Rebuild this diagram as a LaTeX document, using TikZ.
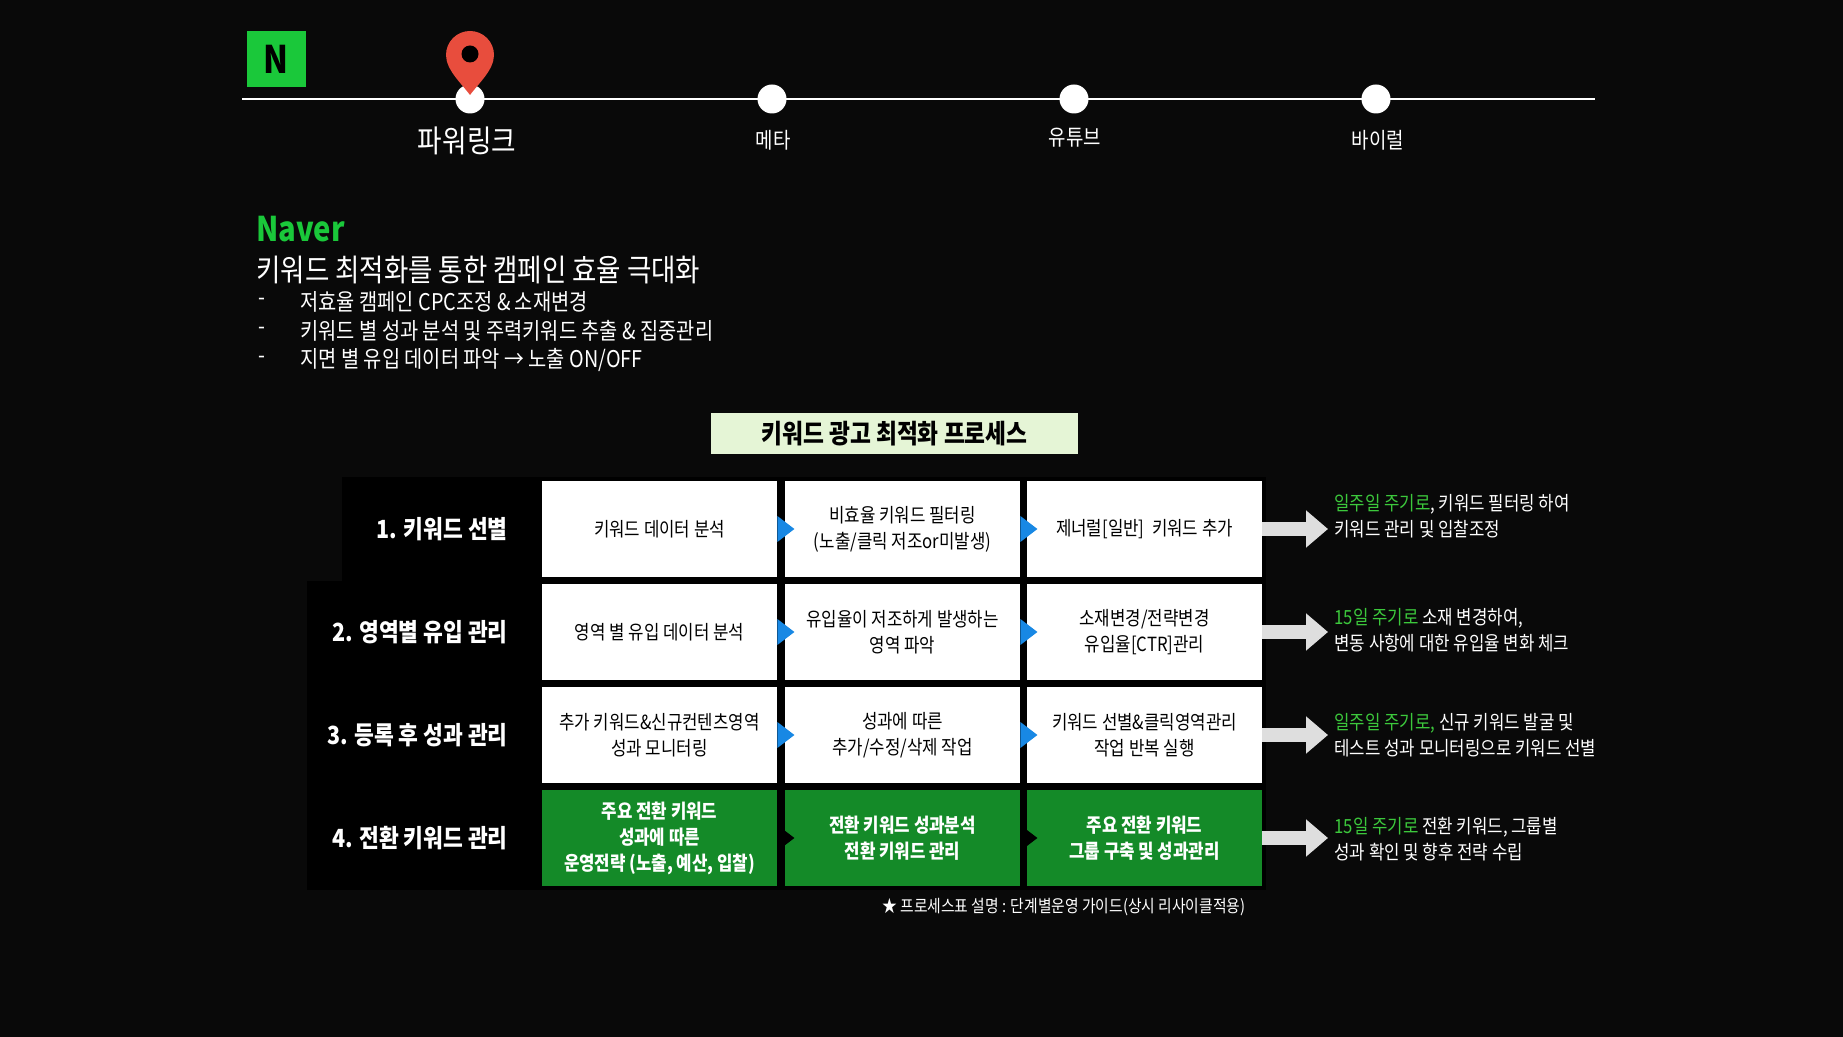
\documentclass[tikz,border=0pt]{standalone}
\usepackage{fontspec}
\setmainfont{Noto Sans CJK KR}[FakeStretch=0.86]
\usetikzlibrary{arrows.meta}
\definecolor{bg}{RGB}{9,9,9}
\definecolor{nvgreen}{RGB}{26,200,58}
\definecolor{pinred}{RGB}{232,77,61}
\definecolor{cellgreen}{RGB}{20,138,40}
\definecolor{hdrgreen}{RGB}{229,245,214}
\definecolor{tblue}{RGB}{24,136,228}
\definecolor{txtgreen}{RGB}{60,200,60}
\definecolor{agray}{RGB}{222,222,222}
\begin{document}
\begin{tikzpicture}[x=0.5pt,y=-0.5pt,
    cell/.style={minimum width=117.5pt,minimum height=48pt,inner sep=0pt,align=center,
      fill=white,text=black,font=\fontsize{9.75}{13}\selectfont},
    gcell/.style={cell,fill=cellgreen,text=white,font=\fontsize{9.75}{13}\selectfont\bfseries},
    rowlbl/.style={anchor=east,inner sep=0pt,text=white,font=\fontsize{12.5}{15}\selectfont\bfseries},
    note/.style={anchor=west,align=left,inner sep=0pt,text=white,font=\fontsize{9.75}{13}\selectfont},
    bullet/.style={anchor=west,inner sep=0pt,text=white,font=\fontsize{11.5}{13}\selectfont},
    dot/.style={circle,fill=white,minimum size=14.5pt,inner sep=0pt},
    bigarrow/.style={agray,line width=7pt,-{Triangle[length=11pt,width=18pt]}}]
  \fill[bg] (0,0) rectangle (1843,1037);
  % timeline
  \node[fill=nvgreen,minimum width=29.5pt,minimum height=28pt,inner sep=0pt,
    font=\fontsize{19}{19}\selectfont\bfseries] (logo) at (276,59) {N};
  \draw[white,line width=1.2pt] (242,99) -- (1595,99);
  \foreach \x/\n in {470/p1,772/p2,1074/p3,1376/p4}
    \node[dot] (\n) at (\x,99) {};
  \fill[pinred] (470,95) .. controls (462,84) and (446,70) .. (446,55)
    arc[start angle=180,end angle=360,radius=24] .. controls (494,70) and (478,84) .. (470,95);
  \fill[black] (470,54) circle[radius=8.5];
  \node[text=white,font=\fontsize{15.5}{18}\selectfont] (l1) at (467,141) {파워링크};
  \node[text=white,font=\fontsize{11}{13}\selectfont] (l2) at (773,140) {메타};
  \node[text=white,font=\fontsize{11}{13}\selectfont] (l3) at (1075,138) {유튜브};
  \node[text=white,font=\fontsize{11}{13}\selectfont] (l4) at (1378,140) {바이럴};
  % intro
  \node[anchor=west,inner sep=0pt,text=nvgreen,font=\fontsize{17}{20}\selectfont\bfseries] (brand) at (256,229) {Naver};
  \node[anchor=west,inner sep=0pt,text=white,font=\fontsize{15.4}{18}\selectfont] (title) at (256,270) {키워드 최적화를 통한 캠페인 효율 극대화};
  \foreach \y/\n/\t in {302/b1/{저효율 캠페인 CPC조정 \& 소재변경},
      331/b2/{키워드 별 성과 분석 및 주력키워드 추출 \& 집중관리},
      360/b3/{지면 별 유입 데이터 파악 → 노출 ON/OFF}}{
    \node[bullet] (d\n) at (258,\y) {-};
    \node[bullet] (\n) at (300,\y) {\t};
  }
  % process table
  \node[fill=hdrgreen,minimum width=183.5pt,minimum height=20.5pt,inner sep=0pt,
    font=\fontsize{13.2}{15}\selectfont\bfseries] (hdr) at (894.5,433.5) {키워드 광고 최적화 프로세스};
  \fill[black] (342,477) rectangle (1266,581);
  \fill[black] (307,581) rectangle (1266,890);
  \node[rowlbl] (r1) at (508,529) {1. 키워드 선별};
  \node[rowlbl] (r2) at (508,632) {2. 영역별 유입 관리};
  \node[rowlbl] (r3) at (508,735) {3. 등록 후 성과 관리};
  \node[rowlbl] (r4) at (508,838) {4. 전환 키워드 관리};
  \node[cell] (c11) at (659.5,529) {키워드 데이터 분석};
  \node[cell] (c12) at (902.5,529) {비효율 키워드 필터링\\(노출/클릭 저조or미발생)};
  \node[cell] (c13) at (1144.5,529) {제너럴[일반] \ 키워드 추가};
  \node[cell] (c21) at (659.5,632) {영역 별 유입 데이터 분석};
  \node[cell] (c22) at (902.5,632) {유입율이 저조하게 발생하는\\영역 파악};
  \node[cell] (c23) at (1144.5,632) {소재변경/전략변경\\유입율[CTR]관리};
  \node[cell] (c31) at (659.5,735) {추가 키워드\&신규컨텐츠영역\\성과 모니터링};
  \node[cell] (c32) at (902.5,735) {성과에 따른\\추가/수정/삭제 작업};
  \node[cell] (c33) at (1144.5,735) {키워드 선별\&클릭영역관리\\작업 반복 실행};
  \node[gcell] (c41) at (659.5,838) {주요 전환 키워드\\성과에 따른\\운영전략 (노출, 예산, 입찰)};
  \node[gcell] (c42) at (902.5,838) {전환 키워드 성과분석\\전환 키워드 관리};
  \node[gcell] (c43) at (1144.5,838) {주요 전환 키워드\\그룹 구축 및 성과관리};
  \foreach \r in {1,2,3}
    \foreach \c in {1,2}
      \fill[tblue] (c\r\c.east) ++(0,-13) -- ++(17,13) -- ++(-17,13) -- cycle;
  \foreach \c in {1,2}
    \fill[black] (c4\c.east) ++(0,-13) -- ++(17,13) -- ++(-17,13) -- cycle;
  % notes
  \node[note] (n1) at (1334,516) {\textcolor{txtgreen}{일주일 주기로},\,키워드 필터링 하여\\키워드 관리 및 입찰조정};
  \node[note] (n2) at (1334,630) {\textcolor{txtgreen}{15일 주기로} 소재 변경하여,\\변동 사항에 대한 유입율 변화 체크};
  \node[note] (n3) at (1334,735) {\textcolor{txtgreen}{일주일 주기로,} 신규 키워드 발굴 및\\테스트 성과 모니터링으로 키워드 선별};
  \node[note] (n4) at (1334,839) {\textcolor{txtgreen}{15일 주기로} 전환 키워드, 그룹별\\성과 확인 및 향후 전략 수립};
  \foreach \r in {1,2,3,4}
    \draw[bigarrow] (c\r3.east) -- ([xshift=-3pt]n\r.west |- c\r3.east);
  \node[anchor=west,inner sep=0pt,text=white,font=\fontsize{8.6}{10}\selectfont] (fn) at (882,907) {★ 프로세스표 설명 : 단계별운영 가이드(상시 리사이클적용)};
\end{tikzpicture}
\end{document}
